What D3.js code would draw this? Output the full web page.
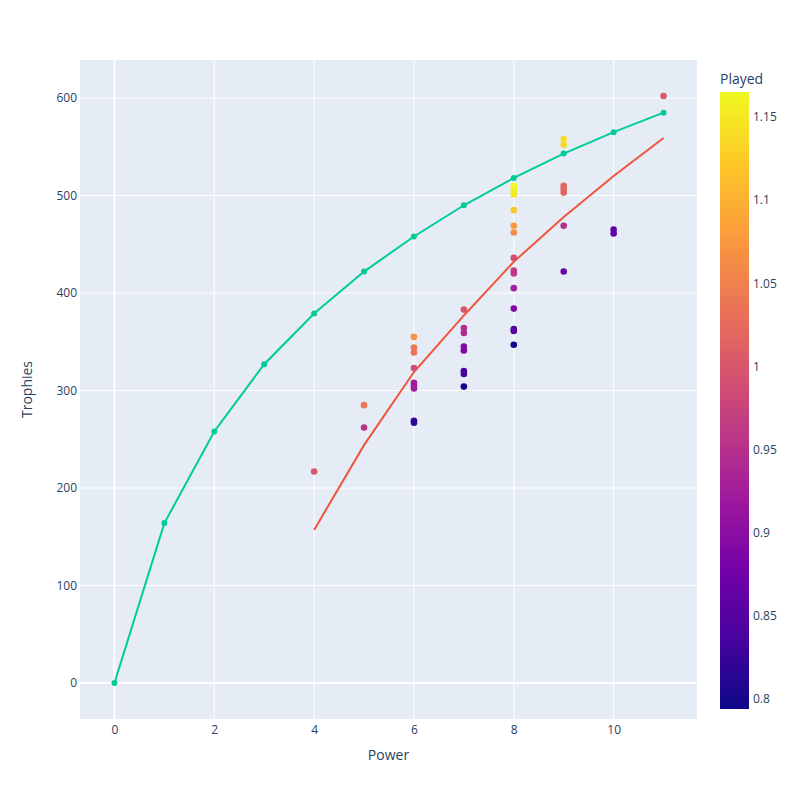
<!DOCTYPE html>
<html>
<head>
<meta charset="utf-8">
<script src="https://cdn.jsdelivr.net/npm/d3@7"></script>
<style>
  html, body { margin: 0; padding: 0; background: #fff; }
  svg { display: block; font-family: "Open Sans", "Noto Sans", sans-serif; }
</style>
</head>
<body>
<svg id="chart" width="800" height="800"></svg>
<script>
// ---- Data ----
const curvePower = [0, 1, 2, 3, 4, 5, 6, 7, 8, 9, 10, 11];
const curveTrophies = [0, 164, 258, 327, 379, 422, 458, 490, 518, 543, 565, 585];

const fitPower = [4, 5, 6, 7, 8, 9, 10, 11];
const fitTrophies = [157, 244, 319, 377, 432, 478, 520, 559];

const pointPower = [4, 5, 5,
  6, 6, 6, 6, 6, 6, 6, 6, 6,
  7, 7, 7, 7, 7, 7, 7, 7,
  8, 8, 8, 8, 8, 8, 8, 8, 8, 8, 8, 8, 8, 8, 8,
  9, 9, 9, 9, 9, 9, 9,
  10, 10, 11];
const pointTrophies = [217, 285, 262,
  355, 344, 339, 323, 308, 305, 302, 269, 267,
  383, 364, 359, 345, 341, 320, 317, 304,
  510, 507, 504, 501, 485, 469, 462, 436, 423, 420, 405, 384, 363, 361, 347,
  558, 552, 510, 507, 503, 469, 422,
  465, 461, 602];
const pointPlayed = [1.0, 1.04, 0.955,
  1.07, 1.04, 1.035, 0.99, 0.93, 0.925, 0.925, 0.82, 0.82,
  1.0, 0.945, 0.94, 0.895, 0.89, 0.84, 0.835, 0.80,
  1.165, 1.16, 1.155, 1.15, 1.12, 1.075, 1.06, 0.99, 0.965, 0.96, 0.93, 0.89, 0.85, 0.85, 0.80,
  1.14, 1.135, 1.02, 1.02, 1.015, 0.95, 0.87,
  0.86, 0.86, 1.0];

const xTicks = [0, 2, 4, 6, 8, 10];
const yTicks = [0, 100, 200, 300, 400, 500, 600];
const cbTicks = [0.8, 0.85, 0.9, 0.95, 1.0, 1.05, 1.1, 1.15];
const plasma = ["#0d0887", "#46039f", "#7201a8", "#9c179e", "#bd3786",
                "#d8576b", "#ed7953", "#fb9f3a", "#fdca26", "#f0f921"];

// ---- Layout ----
const svg = d3.select("#chart");
const L = 80, R = 697, T = 60, B = 719;
const textColor = "#2a3f5f";

const x = d3.scaleLinear().domain([-0.69, 11.67]).range([L, R]);
const y = d3.scaleLinear().domain([-36.9, 639]).range([B, T]);

const cMin = 0.794, cMax = 1.165;
const colorInterp = d3.piecewise(d3.interpolateRgb, plasma);
const color = v => colorInterp(Math.max(0, Math.min(1, (v - cMin) / (cMax - cMin))));

svg.append("rect").attr("x", L).attr("y", T).attr("width", R - L).attr("height", B - T)
  .attr("fill", "#e5ecf6");

// grid
const grid = svg.append("g");
grid.selectAll(".gx").data(xTicks).join("line")
  .attr("x1", d => x(d)).attr("x2", d => x(d)).attr("y1", T).attr("y2", B)
  .attr("stroke", "#fff").attr("stroke-width", d => d === 0 ? 2 : 1);
grid.selectAll(".gy").data(yTicks).join("line")
  .attr("y1", d => y(d)).attr("y2", d => y(d)).attr("x1", L).attr("x2", R)
  .attr("stroke", "#fff").attr("stroke-width", d => d === 0 ? 2 : 1);

// axes
const xAxis = d3.axisBottom(x).tickValues(xTicks).tickSize(0).tickPadding(6).tickFormat(d3.format("d"));
const gx = svg.append("g").attr("transform", `translate(0,${B})`).call(xAxis);
gx.select(".domain").remove();
gx.selectAll("text").attr("fill", textColor).attr("font-size", 12).attr("font-family", "Open Sans");

const yAxis = d3.axisLeft(y).tickValues(yTicks).tickSize(0).tickPadding(3).tickFormat(d3.format("d"));
const gy = svg.append("g").attr("transform", `translate(${L},0)`).call(yAxis);
gy.select(".domain").remove();
gy.selectAll("text").attr("fill", textColor).attr("font-size", 12).attr("font-family", "Open Sans");

svg.append("text").attr("x", (L + R) / 2).attr("y", 760).attr("text-anchor", "middle")
  .attr("fill", textColor).attr("font-size", 14).text("Power");
svg.append("text").attr("transform", `translate(32,${(T + B) / 2}) rotate(-90)`)
  .attr("text-anchor", "middle").attr("fill", textColor).attr("font-size", 14).text("Trophies");

// lines
const clip = svg.append("clipPath").attr("id", "clip").append("rect")
  .attr("x", L).attr("y", T).attr("width", R - L).attr("height", B - T);
const plot = svg.append("g").attr("clip-path", "url(#clip)");

const line = d3.line().x(d => x(d[0])).y(d => y(d[1]));
const fitData = fitPower.map((p, i) => [p, fitTrophies[i]]);
const curveData = curvePower.map((p, i) => [p, curveTrophies[i]]);

plot.append("path").datum(fitData).attr("d", line).attr("fill", "none")
  .attr("stroke", "#EF553B").attr("stroke-width", 2);
plot.append("path").datum(curveData).attr("d", line).attr("fill", "none")
  .attr("stroke", "#00cc96").attr("stroke-width", 2);
plot.selectAll(".cm").data(curveData).join("circle")
  .attr("cx", d => x(d[0])).attr("cy", d => y(d[1])).attr("r", 3)
  .attr("fill", "#00cc96");

// scatter
const pts = pointPower.map((p, i) => ({p, t: pointTrophies[i], c: pointPlayed[i]}));
plot.selectAll(".pt").data(pts).join("circle")
  .attr("cx", d => x(d.p)).attr("cy", d => y(d.t)).attr("r", 3.3)
  .attr("fill", d => color(d.c));

// colorbar
const cbX = 720, cbW = 29, cbT = 92, cbB = 709;
const defs = svg.append("defs");
const grad = defs.append("linearGradient").attr("id", "cbgrad")
  .attr("x1", 0).attr("y1", 1).attr("x2", 0).attr("y2", 0);
plasma.forEach((c, i) => grad.append("stop").attr("offset", i / (plasma.length - 1)).attr("stop-color", c));
svg.append("rect").attr("x", cbX).attr("y", cbT).attr("width", cbW).attr("height", cbB - cbT)
  .attr("fill", "url(#cbgrad)");
const cy = d3.scaleLinear().domain([cMin, cMax]).range([cbB, cbT]);
const cbAxis = d3.axisRight(cy).tickValues(cbTicks).tickSize(0).tickPadding(4)
  .tickFormat(d => d3.format("")(+d.toFixed(2)));
const gcb = svg.append("g").attr("transform", `translate(${cbX + cbW},0)`).call(cbAxis);
gcb.select(".domain").remove();
gcb.selectAll("text").attr("fill", textColor).attr("font-size", 12).attr("font-family", "Open Sans");
svg.append("text").attr("x", 720).attr("y", 84).attr("fill", textColor).attr("font-size", 14)
  .text("Played");
</script>
</body>
</html>
